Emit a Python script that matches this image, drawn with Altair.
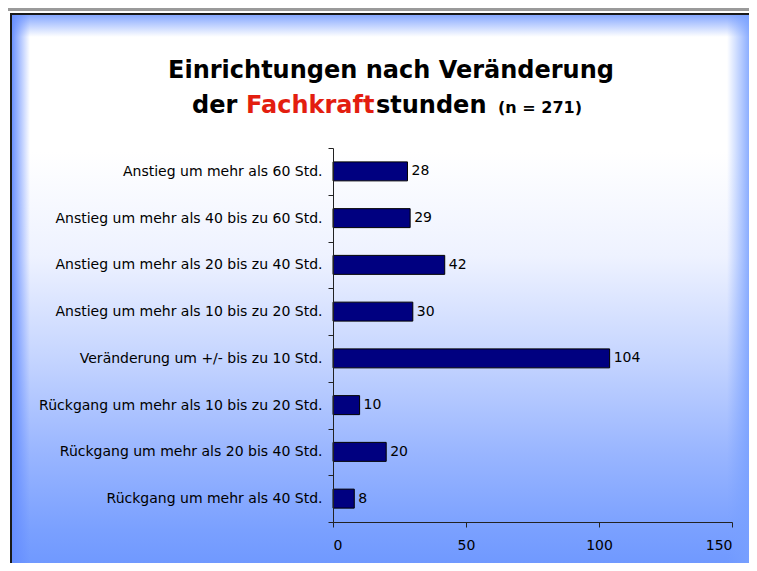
import altair as alt
import pandas as pd

categories = [
    "Anstieg um mehr als 60 Std.",
    "Anstieg um mehr als 40 bis zu 60 Std.",
    "Anstieg um mehr als 20 bis zu 40 Std.",
    "Anstieg um mehr als 10 bis zu 20 Std.",
    "Veränderung um +/- bis zu 10 Std.",
    "Rückgang um mehr als 10 bis zu 20 Std.",
    "Rückgang um mehr als 20 bis 40 Std.",
    "Rückgang um mehr als 40 Std.",
]
values = [28, 29, 42, 30, 104, 10, 20, 8]
x_ticks = [0, 50, 100, 150]

title_line1 = "Einrichtungen nach Veränderung"
title_parts = ["der ", "Fachkraft", "stunden", "(n = 271)"]

FONT = "DejaVu Sans"

df = pd.DataFrame({"cat": categories, "val": values})
one = pd.DataFrame({"k": [0]})


def grad(stops, horizontal=False):
    return {
        "gradient": "linear",
        "x1": 0, "y1": 0,
        "x2": 1 if horizontal else 0,
        "y2": 0 if horizontal else 1,
        "stops": [{"offset": o, "color": c} for o, c in stops],
    }


def rect(x, x2, y, y2, fill):
    return alt.Chart(one).mark_rect(fill=fill).encode(
        x=alt.value(x), x2=alt.value(x2), y=alt.value(y), y2=alt.value(y2)
    )


RIGHT = 416
BOTTOM = 415
gray_band = rect(-325, RIGHT, -140, -137, "#9a9a9a")
border = rect(-323, RIGHT, -135, BOTTOM, "#1a1a1a")
panel = rect(-321, RIGHT, -133, BOTTOM, grad([
    (0.0, "#86a8ff"),
    (0.04, "#ffffff"),
    (0.25, "#ffffff"),
    (0.44, "#eef2ff"),
    (0.63, "#c4d4ff"),
    (0.795, "#9ab6ff"),
    (0.94, "#7aa0ff"),
    (1.0, "#7099ff"),
]))
left_bevel = rect(-321, -303, -133, BOTTOM, grad([
    (0.0, "rgba(100,140,255,0.95)"),
    (1.0, "rgba(100,140,255,0)"),
], horizontal=True))
right_bevel = rect(394, RIGHT, -133, BOTTOM, grad([
    (0.0, "rgba(120,160,255,0)"),
    (1.0, "rgba(120,160,255,0.85)"),
], horizontal=True))

y_enc = alt.Y(
    "cat:N",
    sort=None,
    scale=alt.Scale(paddingInner=0, paddingOuter=0),
    axis=alt.Axis(
        title=None, tickBand="extent", tickSize=5, labelPadding=6,
        labelFont=FONT, labelFontSize=14, labelColor="#000000",
        domainColor="#222222", tickColor="#222222", labelLimit=400,
        zindex=2,
    ),
)
x_enc = alt.X(
    "val:Q",
    scale=alt.Scale(domain=[0, 150], nice=False),
    axis=alt.Axis(
        title=None, values=x_ticks, grid=False, tickSize=5, labelPadding=11,
        labelFont=FONT, labelFontSize=14, labelColor="#000000",
        domainColor="#222222", tickColor="#222222", zindex=2,
    ),
)

bars = alt.Chart(df).mark_bar(
    height={"band": 0.406}, fill="#000080", stroke="#000000", strokeWidth=1
).encode(x=x_enc, y=y_enc)

labels = alt.Chart(df).mark_text(
    align="left", baseline="middle", dx=4, font=FONT, fontSize=14, color="#000000"
).encode(x="val:Q", y=alt.Y("cat:N", sort=None), text="val:Q")


def title_text(txt, x, y, size, color, align="left"):
    return alt.Chart(one).mark_text(
        text=txt, align=align, baseline="alphabetic", font=FONT,
        fontSize=size, fontWeight="bold", color=color,
    ).encode(x=alt.value(x), y=alt.value(y))


t1 = title_text(title_line1, 58, -70, 24, "#000000", align="center")
t2a = title_text(title_parts[0], -141, -35, 24, "#000000")
t2b = title_text(title_parts[1], -87, -35, 24, "#e31e10")
t2c = title_text(title_parts[2], 43, -35, 24, "#000000")
t2d = title_text(title_parts[3], 165, -35, 16, "#000000")

chart = alt.layer(
    gray_band, border, panel, left_bevel, right_bevel,
    bars, labels, t1, t2a, t2b, t2c, t2d,
).properties(
    width=399, height=374,
    padding={"left": 325, "top": 140, "right": 17, "bottom": 41},
    autosize=alt.AutoSizeParams(type="none"),
    background="#ffffff",
).configure_view(strokeWidth=0)

chart.save("out.html", embed_options={"renderer": "svg", "actions": False})
